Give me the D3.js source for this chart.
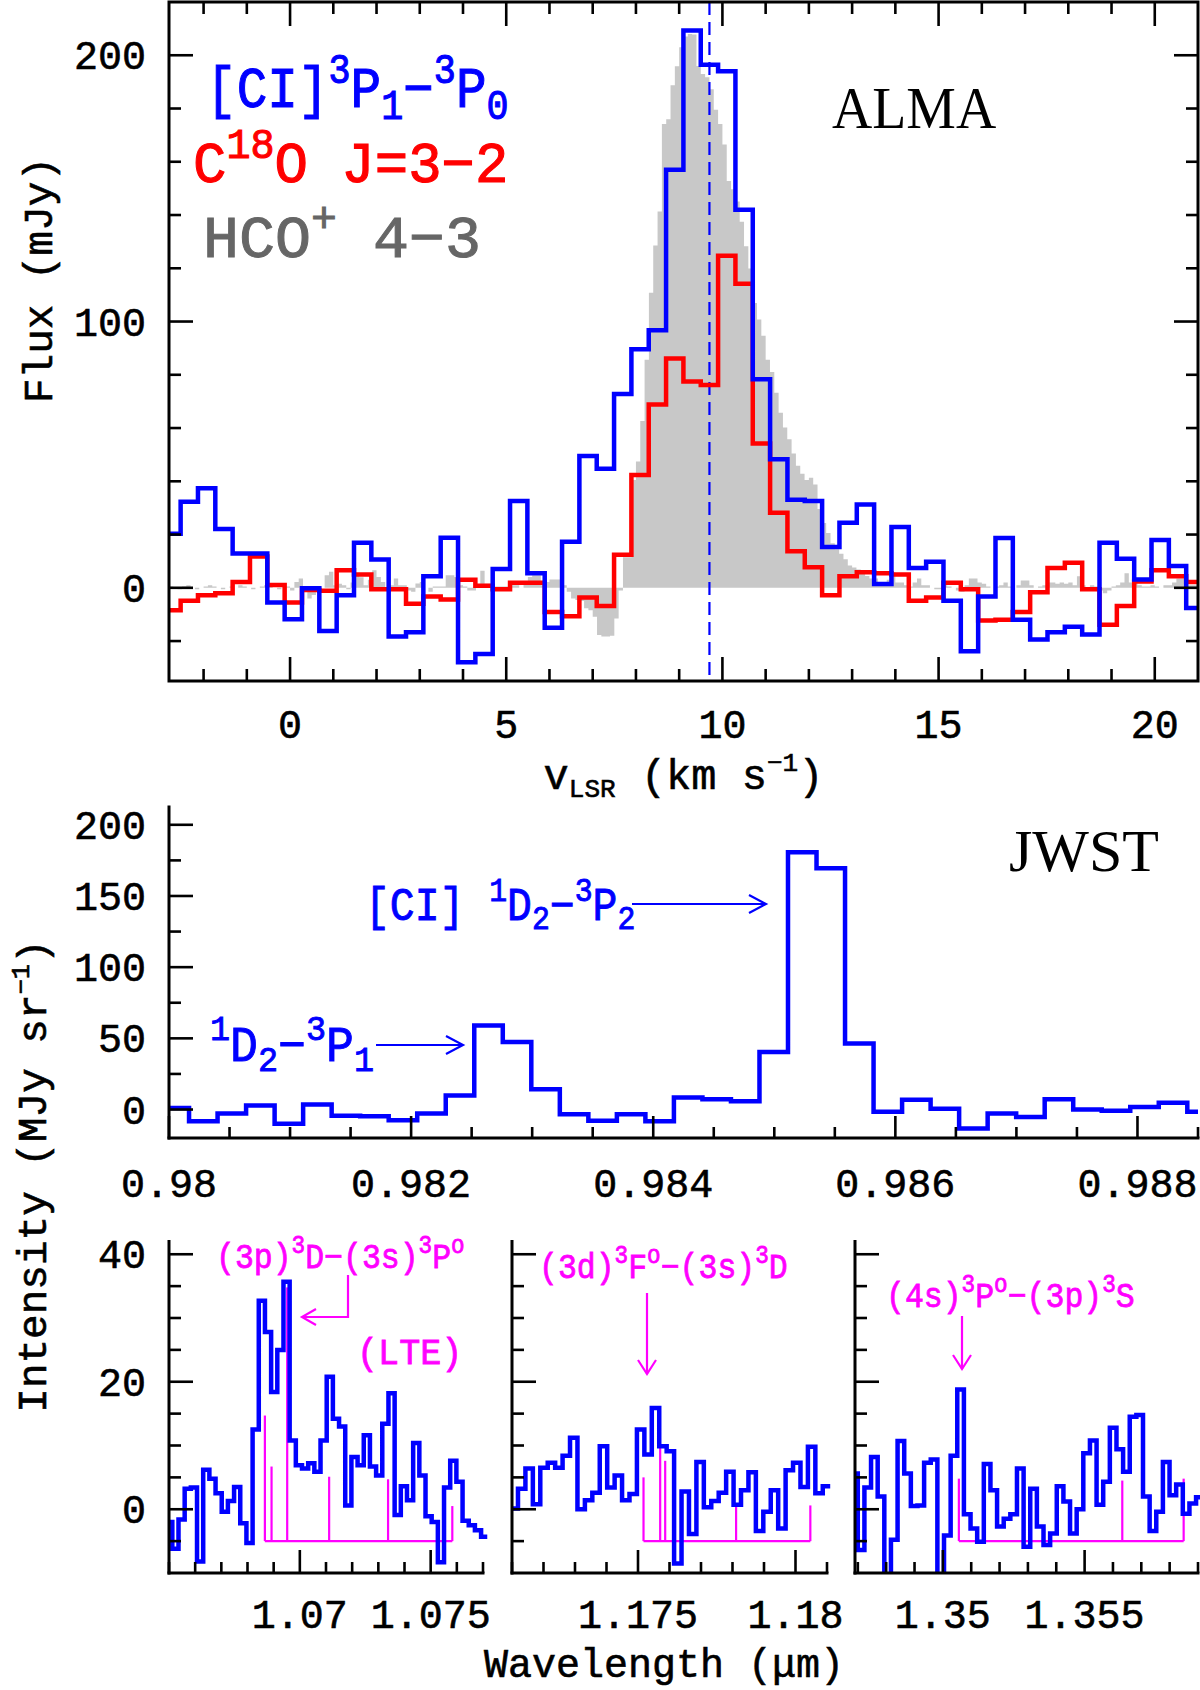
<!DOCTYPE html>
<html>
<head>
<meta charset="utf-8">
<script src="https://cdn.jsdelivr.net/npm/d3@7"></script>
<style>
  body { margin: 0; background: #fff; }
  svg { display: block; }
  text { white-space: pre; }
</style>
</head>
<body>
<div id="chart"></div>
<script>
// ---------- ALMA (top panel) ----------
// [CI] and C18O share 0.401 km/s channels, first channel starts at -2.932 km/s
const almaStart = -2.932, almaStep = 0.401;
const ciFlux = [
  20.3, 32.3, 37.4, 22.1, 12.9, 12.9, -5.5, -11.8, -0.2, -16.2,
  -2.8, 16.9, 10.6, -18.3, -16.7, 4.3, 18.8, -28, -24.9, 7.1,
  32.6, 5.5, -15, 17.3, 49.5, 44.7, 72.8, 89.6, 96.7, 157,
  209.3, 196.4, 194, 142, 78.3, 48.3, 33.1, 32.6, 15.3, 24.4,
  31.3, 1.4, 22.8, 7.4, 9.8, -4.9, -23.8, -3.3, 18.7, -12,
  -19.4, -16.7, -14.6, -17.5, 16.9, 10.9, 3.1, 18, 8.2, -7.6
];
const c18oFlux = [
  -8.4, -4.9, -2.8, -2.0, 2.2, 11.8, 1.1, -5.5, -0.8, -1.1,
  6.6, 5.0, -0.5, -0.5, -6.0, -3.3, -4.4, 3.0, 0.8, -0.5,
  1.9, 1.9, -9.1, -10.7, -3.6, -6.8, 12.4, 42.4, 68.8, 86.1,
  77.5, 76.2, 124.7, 114.2, 54.2, 28.2, 13.7, 7.7, -2.8, 4.3,
  5.8, 5.5, 5.0, -4.9, -3.6, 1.9, -0.5, -12.3, -12.0, -9.1,
  -1.7, 7.4, 9.4, -0.5, -13.9, -6.8, 2.4, 6.6, 4.3, 2.2
];
// HCO+ 4-3, 0.1 km/s channels from -2.8 km/s
const hcoStart = -2.8, hcoStep = 0.1;
const hcoFlux = [
  // -2.8 .. 0.0
  0.5, 0, -0.5, 0.5, 1, 0, -0.5, 0, 0.5, 1, 0.5, 0, -0.5, 0, 0.5, 0, 1, 0.5, 0, -0.5,
  0, 0.5, 1, 0.5, 0, -0.5, 0, 0.5,
  // 0.0 .. 6.3
  -1, 2.2, 3.5, 0, -4, -2.7, -1, 0, 4.7, 6, 1, 1.5, 1, -0.5, 2, 4.7, 4, 1, 3, 6.6,
  4.1, 2.2, -1, 1, 3.5, 1, 1, -1, -1.5, 1.6, 2.2, 0, -1.5, 0.5, 0.5, 0.5, 4.7, 4.7, 4.1, 1,
  0.5, -1, -1, 1, 6.4, 1.5, 1.5, 0.5, 0.5, 0.5, 0.5, 1, 1, 0, 2, 4.1, 4.7, 4.7, 1, 2.2,
  3.1, 3.1, 3.1,
  // 6.3 .. 7.7
  1, -1.5, -4, -4.6, -5, -7.7, -8.4, -10.9, -17.7, -18.3, -18.3, -18, -11.5, -1,
  // 7.7 .. 13.4
  11.5, 11.5, 40.5, 47.4, 62.6, 85.6, 110.8, 128.6, 141.3, 174.2,
  176, 188.7, 195.9, 203, 207, 208, 207.8, 196, 193, 191.7,
  187.2, 179.5, 174.2, 166.5, 152.8, 149.7, 145.1, 137.5, 128.3, 119.9,
  107, 100.8, 94.7, 85.6, 81, 73.3, 65.7, 60.2, 55.8, 50.4,
  45.8, 42.8, 40.5, 41.3, 38.8, 29.6, 24.3, 20.6, 16.7, 14.5,
  12.8, 10.7, 8.4, 7.6, 6.9, 5.2, 4.4,
  // 13.4 .. 21.0
  3.5, 3.5, 2, 1.5, 3, 5.8, 2, 2, 1, 0.5, 2, 3.5, 1, 1, 0, -0.5, -0.5, 1, 0.5, 0,
  -1, -1.5, 1, 3.5, 3.5, 2, 1.5, 0.5, 0, 0.5, 1, 2, 0.5, 0, 1, 2.7, 2.7, 1, 0, 0.5,
  1, 2, 2, 1.5, 2, 1.5, 2, 1, 4.3, 1, 0, 1, 0.5, -1, -2, -1, 0.5, 1, 2, 5.5,
  2, 2, 1, 0.5, 0.5, 1, 0.5, 0, 1, 1, 2, 3.5, 3.5, 1, 1, 1
];
const vSys = 9.7;

// ---------- JWST [CI] 1D2 lines (middle panel) ----------
const ciNirStart = 0.97993, ciNirStep = 0.0002356;
const ciNirInt = [
  1, -8.3, -2.8, 2.8, -10, 3.5, -4.3, -4.8, -7.5, -2.8,
  9.8, 59, 47.4, 14.3, -3.3, -7.8, -3.3, -8.3, 8.5, 7.3,
  5.8, 40.4, 180.7, 169.4, 46.4, -1.5, 6.8, 0.5, -13.3, -2.8,
  -5.3, 7.3, 0, -0.8, 1.8, 4.8, -1.5
];

// ---------- JWST C I permitted lines (bottom panels) ----------
const p1Start = 1.064891, p1Step = 0.000236;
const p1Int = [
  -2.0, -6.2, -1.6, 3.2, 3.4, -8.2, 6.2, 4.8, 2.5, -0.4,
  1.3, 3.5, -2.2, -5.3, 12.5, 32.7, 27.8, 18.4, 25, 35.7,
  10.8, 6.9, 6.4, 7.2, 5.9, 10.8, 20.8, 14.2, 13, 0.6,
  8.2, 6.9, 11.6, 6.7, 5.3, 13.4, 18.2, -0.9, 3.6, 1.4,
  10.4, 5.3, -1.1, -2, -8.3, 3.4, 7.6, 4.3, -1.8, -2.5,
  -3.3, -4.3
];
const p1LineWave = [1.068664, 1.068919, 1.069517, 1.07112, 1.073372, 1.075827];
const p1LineTop = [14.7, 6.7, 34.8, 5.1, 4.7, 0.5];

const p2Start = 1.170954, p2Step = 0.000236;
const p2Int = [
  0.1, 3.2, 6.4, 0.8, 6.5, 7.3, 6.5, 8.4, 11.2, 0,
  1.4, 2.6, 9.9, 3.4, 5.3, 1.4, 2.4, 12.5, 8.6, 15.9,
  9.9, 9.1, -8.5, 2.8, -3.9, 7.4, 0.3, 1.3, 2.6, 5.9,
  0.7, 3.0, 5.8, -3.4, -0.4, 3.0, -3.0, 6.1, 7.3, 3.5,
  9.8, 2.5, 3.6
];
const p2LineWave = [1.175175, 1.175704, 1.175863, 1.178114, 1.180471];
const p2LineTop = [5.0, 10.0, 7.6, 0.6, 0.6];

const p3Start = 1.346764, p3Step = 0.000234;
const p3Int = [
  5.6, -6.4, 3.4, 8.2, 2.0, -13, -4.8, 10.7, 5.6, 0.5,
  0.6, 7.3, 7.8, -13, -4.1, 8.4, 18.8, -0.8, -3.0, -5.1,
  7.1, 3.0, -2.7, -1.5, -0.8, 6.4, -5.9, 3.2, -2.7, -5.6,
  -3.8, 3.6, 1.2, -3.8, 0, 8.8, 10.8, 0.7, 4.3, 12.8,
  9.4, 5.9, 14.5, 14.8, 2.0, -3.4, -0.4, 7.4, 2.2, 3.9,
  -0.7, 0.9, 1.9
];
const p3LineWave = [1.350564, 1.356329, 1.358494];
const p3LineTop = [4.8, 4.5, 4.8];
const lteBase = -5;

// ---------- setup ----------
const W = 1200, H = 1690;
const MONO = '"Liberation Mono", "DejaVu Sans Mono", monospace';
const SERIF = '"Liberation Serif", "DejaVu Serif", serif';
const BLUE = '#0000ff', RED = '#ff0000', MAG = '#ff00ff';

const svg = d3.select('#chart').append('svg')
  .attr('width', W).attr('height', H)
  .attr('viewBox', `0 0 ${W} ${H}`);
const defs = svg.append('defs');

function clip(id, x, y, w, h) {
  defs.append('clipPath').attr('id', id)
    .append('rect').attr('x', x).attr('y', y).attr('width', w).attr('height', h);
  return `url(#${id})`;
}

function stepPoints(start, step, vals) {
  const pts = vals.map((v, i) => [start + i * step, v]);
  pts.push([start + vals.length * step, vals[vals.length - 1]]);
  return pts;
}

function drawStep(g, x, y, start, step, vals, color, width) {
  const line = d3.line().x(d => x(d[0])).y(d => y(d[1])).curve(d3.curveStepAfter);
  g.append('path')
    .attr('d', line(stepPoints(start, step, vals)))
    .attr('fill', 'none').attr('stroke', color)
    .attr('stroke-width', width).attr('stroke-linejoin', 'miter');
}

// text with super/subscripts; parts: 'str' or [str, 'sup'|'sub']
function rich(g, x, y, parts, o) {
  const size = o.size;
  const small = o.small || 0.72;
  let tr = `translate(${x},${y})`;
  if (o.rotate) tr += ` rotate(${o.rotate})`;
  if (o.sx) tr += ` scale(${o.sx},1)`;
  const col = o.color || '#000';
  const t = g.append('text')
    .attr('transform', tr)
    .attr('font-family', o.family || MONO)
    .attr('font-size', size)
    .attr('fill', col)
    .attr('stroke', col).attr('stroke-width', o.sw == null ? 0.8 : o.sw)
    .attr('text-anchor', o.anchor || 'start');
  let cur = 0;
  parts.forEach(p => {
    const [s, k] = typeof p === 'string' ? [p, 'n'] : p;
    const off = k === 'sup' ? -0.42 * size : k === 'sub' ? 0.2 * size : 0;
    t.append('tspan')
      .attr('dy', off - cur)
      .attr('font-size', k === 'n' || !k ? size : size * small)
      .text(s);
    cur = off;
  });
  return t;
}

// ticks: axis position pos (pixel), values in data, dir = +1/-1 pixel direction
function xTicks(g, x, pos, vals, len, dir) {
  g.append('g').selectAll('line').data(vals).join('line')
    .attr('x1', d => x(d)).attr('x2', d => x(d))
    .attr('y1', pos).attr('y2', pos + dir * len)
    .attr('stroke', '#000').attr('stroke-width', 2.6);
}
function yTicks(g, y, pos, vals, len, dir) {
  g.append('g').selectAll('line').data(vals).join('line')
    .attr('y1', d => y(d)).attr('y2', d => y(d))
    .attr('x1', pos).attr('x2', pos + dir * len)
    .attr('stroke', '#000').attr('stroke-width', 2.6);
}
function axisLine(g, x1, y1, x2, y2) {
  g.append('line').attr('x1', x1).attr('y1', y1).attr('x2', x2).attr('y2', y2)
    .attr('stroke', '#000').attr('stroke-width', 3).attr('stroke-linecap', 'square');
}
function label(g, x, y, s, anchor) {
  g.append('text').attr('x', x).attr('y', y)
    .attr('font-family', MONO).attr('font-size', 40)
    .attr('stroke', '#000').attr('stroke-width', 0.6)
    .attr('text-anchor', anchor).attr('fill', '#000').text(s);
}
function arrowHead(g, tx, ty, dx, dy, color, len, half) {
  // tip at (tx,ty), pointing along (dx,dy) unit
  const bx = tx - dx * len, by = ty - dy * len;
  const px = -dy, py = dx;
  g.append('path')
    .attr('d', `M${bx + px * half},${by + py * half}L${tx},${ty}L${bx - px * half},${by - py * half}`)
    .attr('fill', 'none').attr('stroke', color).attr('stroke-width', 2.2);
}

const MAJ = 24, MIN = 12;

// ================= TOP PANEL (ALMA) =================
{
  const L = 169, R = 1198, T = 2, B = 681;
  const x = d3.scaleLinear([-2.8, 21], [L, R]);
  const y = d3.scaleLinear([-35, 220], [B, T]);
  const g = svg.append('g');
  const data = g.append('g').attr('clip-path', clip('clipTop', L, T, R - L, B - T));

  const area = d3.area().x(d => x(d[0])).y0(y(0)).y1(d => y(d[1])).curve(d3.curveStepAfter);
  data.append('path').attr('d', area(stepPoints(hcoStart, hcoStep, hcoFlux)))
    .attr('fill', '#c8c8c8').attr('stroke', 'none');

  data.append('line')
    .attr('x1', x(vSys)).attr('x2', x(vSys)).attr('y1', T).attr('y2', B)
    .attr('stroke', BLUE).attr('stroke-width', 2.2).attr('stroke-dasharray', '13,7');

  drawStep(data, x, y, almaStart, almaStep, c18oFlux, RED, 4.5);
  drawStep(data, x, y, almaStart, almaStep, ciFlux, BLUE, 4.5);

  g.append('rect').attr('x', L).attr('y', T).attr('width', R - L).attr('height', B - T)
    .attr('fill', 'none').attr('stroke', '#000').attr('stroke-width', 3);

  const xMin = d3.range(-2, 21, 1).filter(v => v % 5 !== 0);
  const xMaj = [0, 5, 10, 15, 20];
  const yMin = d3.range(-20, 220, 20).filter(v => v % 100 !== 0);
  const yMaj = [0, 100, 200];
  xTicks(g, x, B, xMin, MIN, -1); xTicks(g, x, B, xMaj, MAJ, -1);
  xTicks(g, x, T, xMin, MIN, 1);  xTicks(g, x, T, xMaj, MAJ, 1);
  yTicks(g, y, L, yMin, MIN, 1);  yTicks(g, y, L, yMaj, MAJ, 1);
  yTicks(g, y, R, yMin, MIN, -1); yTicks(g, y, R, yMaj, MAJ, -1);

  xMaj.forEach(v => label(g, x(v), 738, String(v), 'middle'));
  yMaj.forEach(v => label(g, 146, y(v) + 14, String(v), 'end'));

  rich(g, 52, 280, ['Flux (mJy)'], { size: 41, rotate: -90, anchor: 'middle', sw: 0.6 });
  rich(g, (L + R) / 2, 789, ['v', ['LSR', 'sub'], ' (km s', ['\u22121', 'sup'], ')'],
    { size: 42, anchor: 'middle', sw: 0.6, small: 0.62 });

  rich(g, 206, 107, ['[CI]', ['3', 'sup'], 'P', ['1', 'sub'], '\u2212', ['3', 'sup'], 'P', ['0', 'sub']],
    { size: 58, color: BLUE, sx: 0.88, sw: 1.1 });
  rich(g, 193, 182, ['C', ['18', 'sup'], 'O J=3\u22122'], { size: 58, color: RED, sx: 0.96, sw: 1.1 });
  rich(g, 203, 257, ['HCO', ['+', 'sup'], ' 4\u22123'], { size: 60, color: '#666666', sx: 1.0, sw: 1.0 });

  g.append('text').attr('x', 832).attr('y', 128).attr('font-family', SERIF)
    .attr('transform', 'translate(832,128) scale(0.93,1) translate(-832,-128)')
    .attr('font-size', 60).attr('fill', '#000').text('ALMA');
}

// ================= MIDDLE PANEL (JWST [CI]) =================
{
  const L = 169, R = 1198, T = 807, B = 1138;
  const x = d3.scaleLinear([0.98, 0.9885], [L, R]);
  const y = d3.scaleLinear([-20, 212.5], [B, T]);
  const g = svg.append('g');
  const data = g.append('g').attr('clip-path', clip('clipMid', L, T - 60, R - L, B - T + 60));
  drawStep(data, x, y, ciNirStart, ciNirStep, ciNirInt, BLUE, 4.5);

  axisLine(g, L, T, L, B);
  axisLine(g, L, B, R, B);

  const xMin = d3.range(0, 18).map(i => 0.9805 + i * 0.0005).filter((v, i) => i % 4 !== 3);
  const xMaj = [0.98, 0.982, 0.984, 0.986, 0.988];
  const yMin = [25, 75, 125, 175];
  const yMaj = [0, 50, 100, 150, 200];
  xTicks(g, x, B, xMin.filter(v => v <= 0.98851), 11, -1);
  xTicks(g, x, B, xMaj, 22, -1);
  yTicks(g, y, L, yMin, MIN, 1);
  yTicks(g, y, L, yMaj, MAJ, 1);

  xMaj.forEach(v => label(g, x(v), 1197, String(v), 'middle'));
  yMaj.forEach(v => label(g, 146, y(v) + 14, String(v), 'end'));

  g.append('text').attr('x', 1009).attr('y', 871).attr('font-family', SERIF)
    .attr('font-size', 60).attr('fill', '#000').text('JWST');

  rich(g, 365, 920, ['[CI] ', ['1', 'sup'], 'D', ['2', 'sub'], '\u2212', ['3', 'sup'], 'P', ['2', 'sub']],
    { size: 46, color: BLUE, sx: 0.9, sw: 0.9 });
  g.append('line').attr('x1', 632).attr('x2', 766).attr('y1', 904).attr('y2', 904)
    .attr('stroke', BLUE).attr('stroke-width', 2.2);
  arrowHead(g, 766, 904, 1, 0, BLUE, 17, 9);

  rich(g, 210, 1061, [['1', 'sup'], 'D', ['2', 'sub'], '\u2212', ['3', 'sup'], 'P', ['1', 'sub']],
    { size: 50, color: BLUE, sx: 0.93, sw: 0.9 });
  g.append('line').attr('x1', 376).attr('x2', 463).attr('y1', 1045).attr('y2', 1045)
    .attr('stroke', BLUE).attr('stroke-width', 2.2);
  arrowHead(g, 463, 1045, 1, 0, BLUE, 17, 9);

  rich(g, 46, 1176, ['Intensity (MJy sr', ['\u22121', 'sup'], ')'],
    { size: 41, rotate: -90, anchor: 'middle', sw: 0.6, small: 0.62 });
}

// ================= BOTTOM PANELS =================
const yB = d3.scaleLinear([-10, 42], [1573, 1241.5]);
const bottomPanels = [
  { id: 'p1', dom: [1.065, 1.077], px: [169, 483], start: p1Start, step: p1Step, vals: p1Int,
    wave: p1LineWave, top: p1LineTop, maj: [1.07, 1.075], labels: true },
  { id: 'p2', dom: [1.171, 1.181], px: [512, 827], start: p2Start, step: p2Step, vals: p2Int,
    wave: p2LineWave, top: p2LineTop, maj: [1.175, 1.18], labels: false },
  { id: 'p3', dom: [1.3469, 1.359], px: [855, 1198], start: p3Start, step: p3Step, vals: p3Int,
    wave: p3LineWave, top: p3LineTop, maj: [1.35, 1.355], labels: false }
];

bottomPanels.forEach(p => {
  const x = d3.scaleLinear(p.dom, p.px);
  const y = yB;
  const g = svg.append('g');
  const [L, R] = p.px, T = 1241.5, B = 1573;
  const data = g.append('g').attr('clip-path', clip('clip' + p.id, L, T - 60, R - L + 5, B - T + 60));

  // LTE model sticks
  const base = y(lteBase);
  data.append('line')
    .attr('x1', x(p.wave[0])).attr('x2', x(p.wave[p.wave.length - 1]))
    .attr('y1', base).attr('y2', base)
    .attr('stroke', MAG).attr('stroke-width', 2.2);
  data.append('g').selectAll('line').data(p.wave).join('line')
    .attr('x1', d => x(d)).attr('x2', d => x(d))
    .attr('y1', base).attr('y2', (d, i) => y(p.top[i]))
    .attr('stroke', MAG).attr('stroke-width', 2.2);

  drawStep(data, x, y, p.start, p.step, p.vals, BLUE, 4.5);

  axisLine(g, L, T, L, B);
  axisLine(g, L, B, R, B);

  const lo = Math.ceil(p.dom[0] * 1000 - 1e-6), hi = Math.floor(p.dom[1] * 1000 + 1e-6);
  const xMin = d3.range(lo, hi + 1).map(v => v / 1000).filter(v => !p.maj.some(m => Math.abs(m - v) < 1e-7));
  xTicks(g, x, B, xMin, 11, -1);
  xTicks(g, x, B, p.maj, 23, -1);
  yTicks(g, y, L, [-5, 5, 10, 15, 25, 30, 35], MIN, 1);
  yTicks(g, y, L, [0, 20, 40], MAJ, 1);

  p.maj.forEach(v => label(g, x(v), 1628, String(v), 'middle'));
  if (p.labels) [0, 20, 40].forEach(v => label(g, 146, y(v) + 14, String(v), 'end'));
});

// bottom annotations
{
  const g = svg.append('g');
  const mo = { size: 35, color: MAG, sx: 0.9, sw: 0.8 };
  rich(g, 216, 1268, ['(3p)', ['3', 'sup'], 'D\u2212(3s)', ['3', 'sup'], 'P', ['o', 'sup']], mo);
  g.append('path').attr('d', 'M348,1275V1317H302')
    .attr('fill', 'none').attr('stroke', MAG).attr('stroke-width', 2.2);
  arrowHead(g, 302, 1317, -1, 0, MAG, 14, 8);
  rich(g, 357, 1364, ['(LTE)'], { size: 37, color: MAG, sx: 0.95, sw: 0.8 });

  rich(g, 539, 1278, ['(3d)', ['3', 'sup'], 'F', ['o', 'sup'], '\u2212(3s)', ['3', 'sup'], 'D'], mo);
  g.append('line').attr('x1', 647).attr('x2', 647).attr('y1', 1293).attr('y2', 1374)
    .attr('stroke', MAG).attr('stroke-width', 2.2);
  arrowHead(g, 647, 1374, 0, 1, MAG, 14, 9);

  rich(g, 886, 1307, ['(4s)', ['3', 'sup'], 'P', ['o', 'sup'], '\u2212(3p)', ['3', 'sup'], 'S'], mo);
  g.append('line').attr('x1', 962).attr('x2', 962).attr('y1', 1316).attr('y2', 1369)
    .attr('stroke', MAG).attr('stroke-width', 2.2);
  arrowHead(g, 962, 1369, 0, 1, MAG, 14, 9);

  rich(g, 664, 1677, ['Wavelength (\u03bcm)'], { size: 40, anchor: 'middle', sw: 0.6 });
}
</script>
</body>
</html>
